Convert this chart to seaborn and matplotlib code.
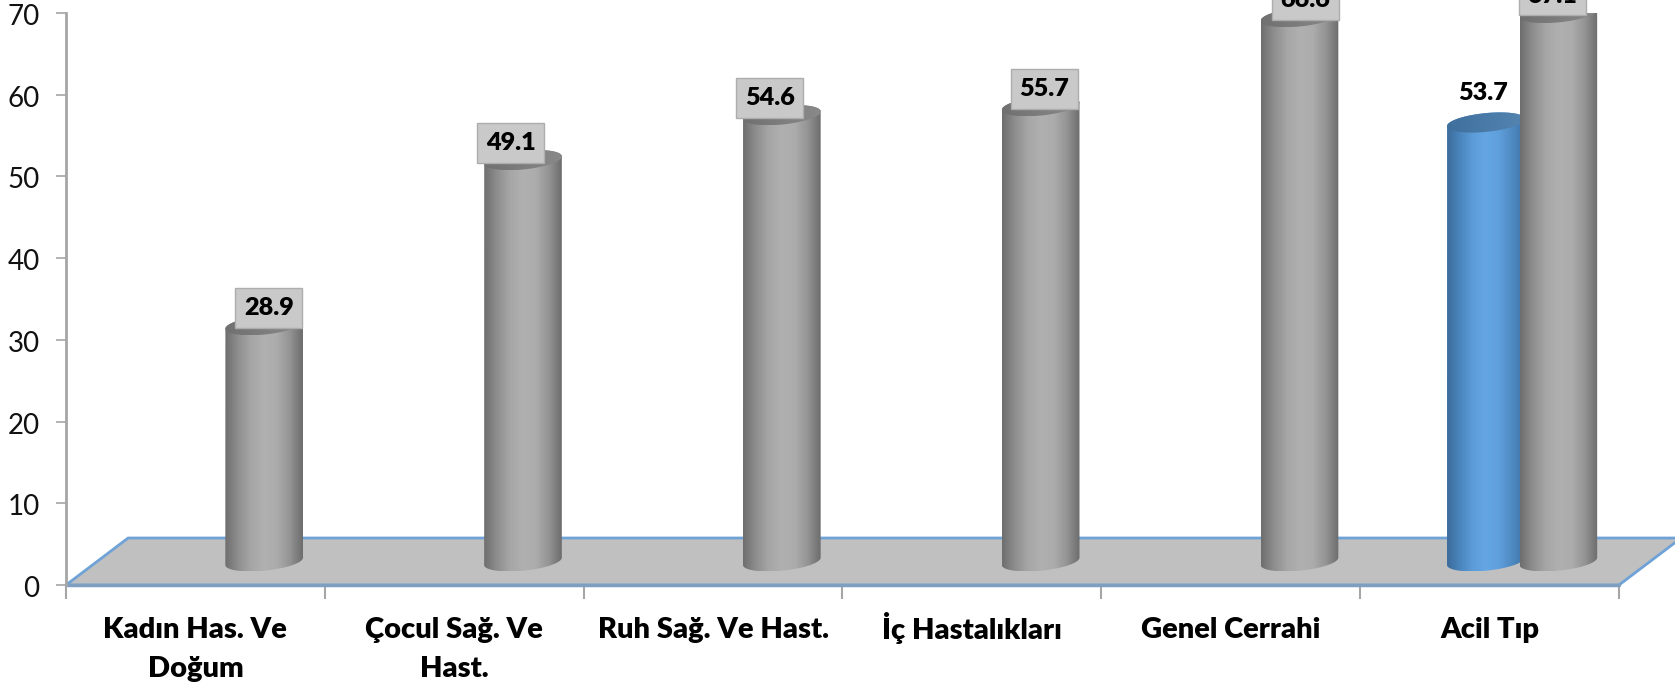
import numpy as np
import pandas as pd
import matplotlib
matplotlib.use('Agg')
import matplotlib.pyplot as plt
import seaborn as sns
from matplotlib.colors import LinearSegmentedColormap
from matplotlib.patches import PathPatch, Polygon, Rectangle
from matplotlib.path import Path
from matplotlib.transforms import ScaledTranslation

# data
categories = ['Kadın Has. Ve\nDoğum', 'Çocul Sağ. Ve\nHast.', 'Ruh Sağ. Ve Hast.',
              'İç Hastalıkları', 'Genel Cerrahi', 'Acil Tıp']
blue_values = [np.nan, np.nan, np.nan, np.nan, np.nan, 53.7]
gray_values = [28.9, 49.1, 54.6, 55.7, 66.6, 67.1]
y_ticks = [0, 10, 20, 30, 40, 50, 60, 70]

# fake 3D settings, in data units
SHIFT_X = 0.1256
BASE_Y = 2.9
BAR_A = 0.15
ELL_B = 1.15
ELL_TILT = 0.45
DEPTH_X = 0.24
DEPTH_Y = 5.75
gray_nudge = [0.015, -0.05, -0.05, 0.012, 0.02, -0.025]

df = pd.DataFrame({
    'cat': categories * 2,
    'series': ['blue'] * 6 + ['gray'] * 6,
    'value': blue_values + gray_values,
})

sns.set_theme(style='white')
plt.rcParams['font.family'] = ['Lato', 'DejaVu Sans']

fig = plt.figure(figsize=(16.75, 6.87), dpi=100)
ax = fig.add_axes([66 / 1675, 1 - 585 / 687, (1619 - 66) / 1675, (585 - 13) / 687])

sns.barplot(data=df, x='cat', y='value', hue='series', order=categories,
            hue_order=['blue', 'gray'], palette={'blue': '#5b9bd5', 'gray': '#a6a6a6'},
            width=0.56, legend=False, ax=ax)

gray_cmap = LinearSegmentedColormap.from_list('g', ['#6e6e6e', '#8e8e8e', '#a6a6a6', '#b0b0b0', '#acacac', '#949494', '#6c6c6c'])
blue_cmap = LinearSegmentedColormap.from_list('b', ['#3c6c9b', '#4a86bd', '#5c9cd8', '#64a6e4', '#5f9fdc', '#4f8ac2', '#3f74a6'])
gray_top = LinearSegmentedColormap.from_list('gt', ['#707070', '#7d7d7d', '#8a8a8a'])
blue_top = LinearSegmentedColormap.from_list('bt', ['#3f6f9c', '#4a7ba8', '#5484b0'])
grad = np.linspace(0, 1, 256).reshape(1, -1)


def ellipse_xy(cx, cy, a, t):
    return cx + a * np.cos(t), cy + ELL_B * np.sin(t) + ELL_TILT * np.cos(t)


def gradient_shape(xs, ys, cmap, zorder):
    verts = np.column_stack([xs, ys])
    codes = [Path.MOVETO] + [Path.LINETO] * (len(verts) - 2) + [Path.CLOSEPOLY]
    clip = PathPatch(Path(verts, codes), transform=ax.transData, fc='none', ec='none')
    ax.add_patch(clip)
    im = ax.imshow(grad, cmap=cmap, aspect='auto', zorder=zorder,
                   extent=[xs.min(), xs.max(), ys.min(), ys.max()])
    im.set_clip_path(clip)


# floor of the 3D plot
ax.add_patch(Polygon([(-0.5, 0), (5.5, 0), (5.5 + DEPTH_X, DEPTH_Y), (-0.5 + DEPTH_X, DEPTH_Y)],
                     closed=True, fc='#c0c0c0', ec='#6fa3d8', lw=2, clip_on=False, zorder=1))
ax.plot([-0.5, 5.5], [0, 0], color='#7f9fc0', lw=2.5, clip_on=False, zorder=1.5)

# turn the flat seaborn bars into cylinders
z = 3
for bar in [p for p in ax.patches if isinstance(p, Rectangle)]:
    h = bar.get_height()
    bar.set_visible(False)
    if not np.isfinite(h) or h <= 0:
        continue
    cx = bar.get_x() + bar.get_width() / 2
    is_blue = 4.5 < cx < 5
    cx = cx + SHIFT_X
    top = BASE_Y + h
    bx, by = ellipse_xy(cx, BASE_Y, BAR_A, np.linspace(np.pi, 2 * np.pi, 60))
    tx, ty = ellipse_xy(cx, top, BAR_A, np.linspace(0, np.pi, 60))
    gradient_shape(np.r_[bx, tx], np.r_[by, ty], blue_cmap if is_blue else gray_cmap, z)
    ex, ey = ellipse_xy(cx, top, BAR_A, np.linspace(0, 2 * np.pi, 120))
    gradient_shape(ex, ey, blue_top if is_blue else gray_top, z + 0.1)
    z += 1

# value labels
for i, v in enumerate(gray_values):
    ax.text(i + 0.143 + SHIFT_X + gray_nudge[i], v + 5, f'{v:.1f}', ha='center', va='center',
            fontsize=18.2, fontweight='heavy', color='black', clip_on=False, zorder=20,
            bbox=dict(boxstyle='square,pad=0.34', fc='#c9c9c9', ec='#adadad', lw=1))
ax.text(5 - 0.151 + SHIFT_X, blue_values[5] + 6.5, f'{blue_values[5]:.1f}', ha='center', va='center',
        fontsize=18.2, fontweight='heavy', color='black', clip_on=False, zorder=20)

ax.set_xlim(-0.5, 5.5)
ax.set_ylim(0, 70)
ax.set_xlabel('')
ax.set_ylabel('')
ax.set_yticks(y_ticks)
ax.set_xticks(range(6))
ax.set_xticklabels(categories, fontweight='heavy', fontsize=21, color='black', linespacing=1.6)
ax.set_xticks(np.arange(-0.5, 6), minor=True)
ax.tick_params(axis='x', which='major', length=0, pad=23, bottom=True)
ax.tick_params(axis='x', which='minor', length=10, width=1.5, color='#a6a6a6', bottom=True)
ax.tick_params(axis='y', length=7, width=1.2, color='#a6a6a6', left=True, labelsize=20,
               labelcolor='#111111', pad=12)

# the dotted capital makes this label sit lower than its neighbours
lab = ax.get_xticklabels()[3]
lab.set_transform(lab.get_transform() + ScaledTranslation(0, 5 / 100, fig.dpi_scale_trans))
for lab in ax.get_yticklabels():
    lab.set_transform(lab.get_transform() + ScaledTranslation(0, -1.5 / 100, fig.dpi_scale_trans))

sns.despine(ax=ax, top=True, right=True, bottom=True)
ax.spines['left'].set_color('#a6a6a6')
ax.spines['left'].set_linewidth(2)
ax.patch.set_alpha(0)

fig.savefig('out.png', dpi=100)
